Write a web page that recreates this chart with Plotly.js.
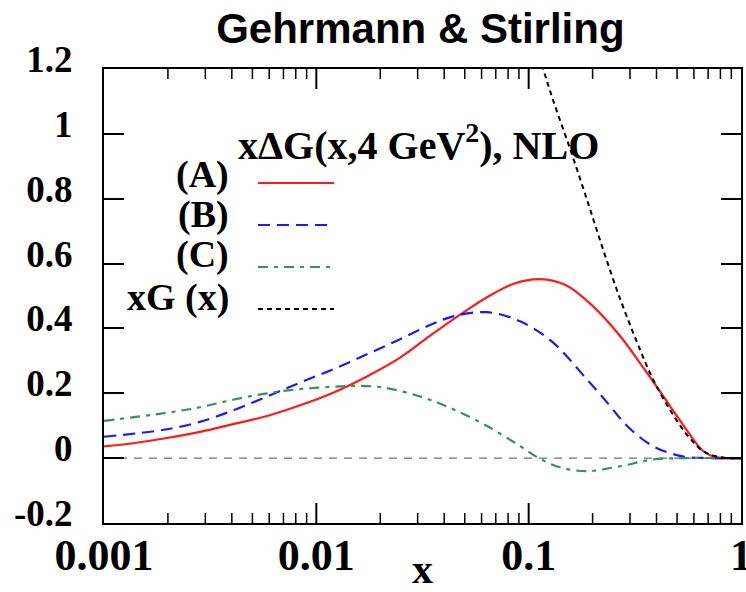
<!DOCTYPE html>
<html>
<head>
<meta charset="utf-8">
<script src="https://cdn.plot.ly/plotly-3.0.1.min.js"></script>
<style>html,body{margin:0;padding:0;background:#fff;}#chart{width:746px;height:592px;}</style>
</head>
<body>
<div id="chart"></div>
<script>
// ---- data ----
const xA = [0.001, 0.00137, 0.00198, 0.00283, 0.00405, 0.00586, 0.00838, 0.0120, 0.0173, 0.0248, 0.0341, 0.0470, 0.0637, 0.0850, 0.113, 0.150, 0.201, 0.270, 0.350, 0.464, 0.557, 0.663, 0.760, 1.0];
const yA = [0.036, 0.046, 0.062, 0.081, 0.105, 0.130, 0.163, 0.202, 0.252, 0.310, 0.376, 0.440, 0.496, 0.538, 0.552, 0.533, 0.468, 0.376, 0.275, 0.160, 0.085, 0.022, 0.003, 0.0];

const xB = [0.001, 0.00198, 0.00283, 0.00405, 0.00586, 0.00838, 0.0120, 0.0173, 0.0248, 0.0341, 0.0441, 0.0637, 0.0911, 0.130, 0.188, 0.234, 0.291, 0.385, 0.517, 0.692, 1.0];
const yB = [0.066, 0.089, 0.112, 0.147, 0.190, 0.233, 0.274, 0.320, 0.367, 0.410, 0.437, 0.450, 0.422, 0.357, 0.243, 0.172, 0.099, 0.037, 0.007, 0.0, 0.0];

const xC = [0.001, 0.00198, 0.00283, 0.00405, 0.00586, 0.00838, 0.0120, 0.0149, 0.0206, 0.0308, 0.0441, 0.0637, 0.0911, 0.1096, 0.140, 0.188, 0.270, 0.385, 0.557, 1.0];
const yC = [0.115, 0.140, 0.157, 0.180, 0.200, 0.213, 0.220, 0.223, 0.218, 0.190, 0.151, 0.099, 0.037, 0.003, -0.028, -0.040, -0.025, -0.004, 0.0, 0.0];

const xG = [0.0733, 0.1015, 0.117, 0.130, 0.157, 0.188, 0.224, 0.270, 0.324, 0.385, 0.464, 0.557, 0.663, 0.797, 1.0];
const yG = [1.55, 1.32, 1.20, 1.106, 0.952, 0.798, 0.644, 0.490, 0.357, 0.243, 0.148, 0.072, 0.022, 0.003, 0.0];

const seriesNames = ['(A)', '(B)', '(C)', 'xG (x)'];
const xTickVals = [0.001, 0.01, 0.1, 1];
const xTickText = ['0.001', '0.01', '0.1', '1'];
const xMinorVals = [];
[0.001, 0.01, 0.1].forEach(d => { for (let k = 2; k <= 9; k++) xMinorVals.push(d * k); });
const yTickVals = [-0.2, 0, 0.2, 0.4, 0.6, 0.8, 1.0, 1.2];
const yTickText = ['-0.2', '0', '0.2', '0.4', '0.6', '0.8', '1', '1.2'];

// ---- styles ----
const colors = ['#ff1a1a', '#1a1aff', '#3a8f5a', '#000000'];
const dashes = ['solid', '12px,7px', '10px,6px,4px,6px', '5px,4px'];
const widths = [2.2, 2.2, 2.2, 2.0];

const xs = [xA, xB, xC, xG], ys = [yA, yB, yC, yG];
const traces = xs.map((x, i) => ({
  x: x, y: ys[i], type: 'scatter', mode: 'lines', name: seriesNames[i],
  line: {color: colors[i], dash: dashes[i], width: widths[i], shape: 'spline', smoothing: 1.0},
  showlegend: false, hoverinfo: 'skip'
}));

const serif = '"Liberation Serif", "Times New Roman", Times, serif';
const L = 104, R = 741, T = 69, B = 523;
const px = v => (v - L) / (R - L);
const py = v => (B - v) / (B - T);
const H = B - T;

const annotations = [
  {text: 'x\u0394G(x,4 GeV<sup>2</sup>), NLO', x: px(236), y: py(142), xanchor: 'left', yanchor: 'middle', size: 40}
];
const labelY = [174, 214, 255, 297];
const lineY = [183, 225, 267, 309];
const shapes = [
  {type: 'line', xref: 'paper', yref: 'y', x0: 0, x1: 1, y0: 0, y1: 0,
   line: {color: '#707070', width: 1.2, dash: '8px,7px'}, layer: 'below'}
];
seriesNames.forEach((n, i) => {
  annotations.push({text: n, x: px(231), y: py(labelY[i]), xanchor: 'right', yanchor: 'middle', size: 38});
  shapes.push({type: 'line', xref: 'paper', yref: 'paper', x0: px(258), x1: px(334), y0: py(lineY[i]), y1: py(lineY[i]),
    line: {color: colors[i], width: widths[i], dash: dashes[i]}});
});
annotations.forEach(a => {
  a.xref = 'paper'; a.yref = 'paper'; a.showarrow = false;
  a.font = {family: serif, size: a.size, color: '#000', weight: 'bold'};
  delete a.size;
});

const xRange = [Math.log10(xTickVals[0]), Math.log10(xTickVals[xTickVals.length - 1])];
// x-axis tick marks (inside, bottom and top), placed on the x scale (paper fraction of the log range)
const xFrac = v => (Math.log10(v) - xRange[0]) / (xRange[1] - xRange[0]);
function addXTicks(vals, len, w) {
  vals.forEach(v => {
    const f = xFrac(v);
    shapes.push({type: 'line', xref: 'paper', yref: 'paper', x0: f, x1: f, y0: 0, y1: len / H,
      line: {color: '#000', width: w}});
    shapes.push({type: 'line', xref: 'paper', yref: 'paper', x0: f, x1: f, y0: 1, y1: 1 - len / H,
      line: {color: '#000', width: w}});
  });
}
addXTicks(xTickVals.slice(1, -1), 20, 2);
addXTicks(xMinorVals, 10, 1.5);

const layout = {
  width: 746, height: 592,
  margin: {l: L, r: 746 - R, t: T, b: 592 - B, pad: 0},
  paper_bgcolor: '#fff', plot_bgcolor: '#fff',
  title: {text: 'Gehrmann & Stirling', x: 0.5635, xanchor: 'center', y: 0.952, yanchor: 'middle',
          font: {family: '"Liberation Sans", Arial, sans-serif', size: 42, color: '#000', weight: 'bold'}},
  xaxis: {
    type: 'log', range: xRange,
    tickmode: 'array', tickvals: xTickVals, ticktext: xTickText,
    ticks: '', 
    showline: true, linecolor: '#000', linewidth: 2, mirror: true, showgrid: false, zeroline: false,
    tickfont: {family: serif, size: 44, color: '#000', weight: 'bold'},
    ticklabelstandoff: -8, ticklabeloverflow: 'allow',
    title: {text: 'x', font: {family: serif, size: 42, color: '#000', weight: 'bold'}, standoff: 12}
  },
  yaxis: {
    range: [-0.2, 1.2], tickvals: yTickVals, ticktext: yTickText,
    ticks: 'inside', ticklen: 20, tickwidth: 2, tickcolor: '#000',
    showline: true, linecolor: '#000', linewidth: 2, mirror: 'ticks', showgrid: false, zeroline: false,
    tickfont: {family: serif, size: 37, color: '#000', weight: 'bold'},
    ticklabelstandoff: 22, ticklabelshift: -10
  },
  annotations: annotations, shapes: shapes,
  showlegend: false
};

Plotly.newPlot('chart', traces, layout, {displayModeBar: false, staticPlot: true});
</script>
</body>
</html>
